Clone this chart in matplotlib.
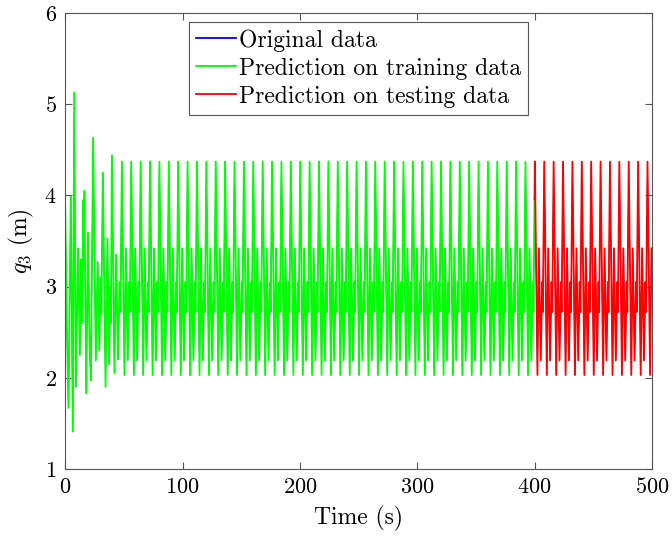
import numpy as np
import matplotlib
matplotlib.use("Agg")
import matplotlib.pyplot as plt

plt.rcParams['font.family'] = 'serif'
plt.rcParams['font.serif'] = ['cmr10']
plt.rcParams['mathtext.fontset'] = 'cm'
plt.rcParams['axes.formatter.use_mathtext'] = True

# start-up transient, read point by point (time s, q3 m)
trans_t = [0.0, 1.4, 2.8, 4.8, 6.5, 7.7,
           9.1, 11.0, 12.5, 13.6, 14.3, 15.4, 15.9, 16.4,
           17.9, 19.5, 20.8, 21.9, 22.6, 23.8,
           26.1, 27.7, 29.1, 30.2, 30.8, 32.1,
           34.4, 36.0, 37.4, 38.4, 39.0, 39.8,
           42.0, 43.4, 45.0, 46.4, 47.1]
trans_q = [3.87, 2.60, 1.67, 3.99, 1.41, 5.13,
           1.90, 3.42, 2.25, 3.30, 2.60, 3.95, 3.20, 4.05,
           1.83, 3.59, 2.35, 1.97, 2.90, 4.63,
           2.19, 3.27, 2.30, 3.10, 2.70, 4.25,
           1.90, 3.53, 2.15, 3.00, 2.60, 4.44,
           2.05, 3.35, 2.20, 3.05, 2.72]

# one steady-state cycle (offset s from the tall peak, q3 m)
cycle_dt = [0.0, 2.2, 3.4, 5.0, 6.2, 6.8]
cycle_q = [4.37, 2.03, 3.42, 2.19, 3.05, 2.72]
period = 8.0
first_peak = 48.3
t_end = 500.0
t_split = 400.0

n_cyc = int((t_end - first_peak) / period) + 1
steady_t = (first_peak + np.arange(n_cyc)[:, None] * period + np.array(cycle_dt)[None, :]).ravel()
steady_q = np.tile(cycle_q, n_cyc)

t = np.concatenate([trans_t, steady_t])
q = np.concatenate([trans_q, steady_q])
keep = t <= t_end
t, q = t[keep], q[keep]

# split point value for a clean hand-over at 400 s
q_split = np.interp(t_split, t, q)
tr = t <= t_split
t_train = np.append(t[tr], t_split)
q_train = np.append(q[tr], q_split)
t_test = np.insert(t[~tr], 0, t_split)
q_test = np.insert(q[~tr], 0, q_split)

fig = plt.figure(figsize=(6.72, 5.4), dpi=100)
ax = fig.add_axes([0.097, 0.1315, 0.873, 0.8445])

ax.plot(t, q, color='#0000ff', lw=0.5, label='Original data')
ax.plot(t_train, q_train, color='#00ff00', lw=1.3, label='Prediction on training data')
ax.plot(t_test, q_test, color='#ff0000', lw=1.3, label='Prediction on testing data')

ax.set_xlim(0, 500)
ax.set_ylim(1, 6)
ax.set_xticks([0, 100, 200, 300, 400, 500])
ax.set_yticks([1, 2, 3, 4, 5, 6])
ax.tick_params(direction='in', top=True, right=True, labelsize=16, length=5,
               color='#555555', width=0.8, pad=6)
for s in ax.spines.values():
    s.set_color('#555555')
    s.set_linewidth(0.8)

ax.set_xlabel('Time (s)', fontsize=17, labelpad=6)
ax.set_ylabel('$q_3$ (m)', fontsize=17, labelpad=6)

leg = ax.legend(loc='upper center', bbox_to_anchor=(0.5, 0.98), borderaxespad=0,
                fontsize=17, handlelength=1.7, handletextpad=0.15,
                labelspacing=0.25, borderpad=0.3, fancybox=False, framealpha=1)
leg.get_frame().set_edgecolor('#555555')
leg.get_frame().set_linewidth(0.8)
for h in leg.get_lines():
    h.set_linewidth(1.3)

fig.savefig('out.png', dpi=100)
